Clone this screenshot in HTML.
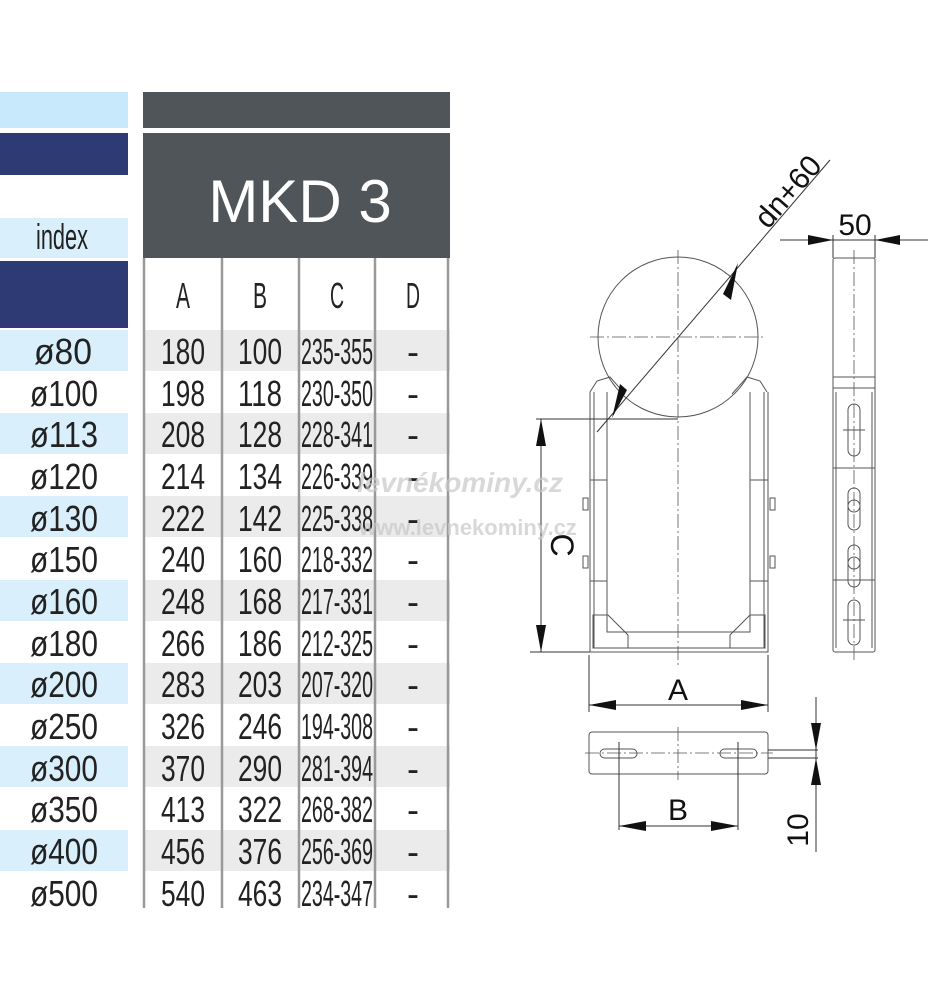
<!DOCTYPE html>
<html><head><meta charset="utf-8"><style>
html,body{margin:0;padding:0;background:#fff;}
svg{display:block;}
.t{font-family:"Liberation Sans",sans-serif;font-size:36px;fill:#222;text-anchor:middle;}
.d{stroke:#555;stroke-width:1;fill:none;}
.c{stroke:#555;stroke-width:0.8;fill:none;stroke-dasharray:14 3 2 3;}
</style></head><body>
<svg width="928" height="999" viewBox="0 0 928 999" xmlns="http://www.w3.org/2000/svg">
<!-- left header -->
<rect x="0" y="92" width="128" height="36" fill="#c8e9fb"/>
<rect x="0" y="133" width="128" height="42" fill="#2e3a74"/>
<rect x="0" y="218" width="128" height="40" fill="#d9effc"/>
<text class="t" x="62" y="249" font-size="30" textLength="52" lengthAdjust="spacingAndGlyphs">index</text>
<rect x="0" y="261" width="128" height="67" fill="#2e3a74"/>
<!-- right header -->
<rect x="143" y="92" width="307" height="36" fill="#4f5558"/>
<rect x="143" y="133" width="307" height="125" fill="#4f5558"/>
<text x="300" y="222" font-family="Liberation Sans,sans-serif" font-size="60" fill="#fff" text-anchor="middle">MKD 3</text>
<!-- stripes -->
<g fill="#d9effc">
<rect x="0" y="330" width="128" height="41"/><rect x="0" y="413" width="128" height="41"/><rect x="0" y="496" width="128" height="41"/><rect x="0" y="580" width="128" height="41"/><rect x="0" y="663" width="128" height="41"/><rect x="0" y="746" width="128" height="41"/><rect x="0" y="830" width="128" height="41"/>
</g>
<g fill="#ebebeb">
<rect x="143" y="330" width="307" height="41"/><rect x="143" y="413" width="307" height="41"/><rect x="143" y="496" width="307" height="41"/><rect x="143" y="580" width="307" height="41"/><rect x="143" y="663" width="307" height="41"/><rect x="143" y="746" width="307" height="41"/><rect x="143" y="830" width="307" height="41"/>
</g>
<g stroke="#999" stroke-width="2.5">
<line x1="144" y1="258" x2="144" y2="908"/><line x1="222" y1="258" x2="222" y2="908"/><line x1="299" y1="258" x2="299" y2="908"/><line x1="375" y1="258" x2="375" y2="908"/><line x1="448" y1="258" x2="448" y2="908"/>
</g>
<g class="t">
<text x="183" y="308" textLength="14" lengthAdjust="spacingAndGlyphs">A</text>
<text x="260" y="308" textLength="14" lengthAdjust="spacingAndGlyphs">B</text>
<text x="337" y="308" textLength="14" lengthAdjust="spacingAndGlyphs">C</text>
<text x="413" y="308" textLength="14" lengthAdjust="spacingAndGlyphs">D</text>
</g>
<g class="t">
<text x="63" y="364" textLength="58" lengthAdjust="spacingAndGlyphs">ø80</text>
<text x="64" y="406" textLength="68" lengthAdjust="spacingAndGlyphs">ø100</text>
<text x="64" y="447" textLength="68" lengthAdjust="spacingAndGlyphs">ø113</text>
<text x="64" y="489" textLength="68" lengthAdjust="spacingAndGlyphs">ø120</text>
<text x="64" y="531" textLength="68" lengthAdjust="spacingAndGlyphs">ø130</text>
<text x="64" y="572" textLength="68" lengthAdjust="spacingAndGlyphs">ø150</text>
<text x="64" y="614" textLength="68" lengthAdjust="spacingAndGlyphs">ø160</text>
<text x="64" y="656" textLength="68" lengthAdjust="spacingAndGlyphs">ø180</text>
<text x="64" y="697" textLength="68" lengthAdjust="spacingAndGlyphs">ø200</text>
<text x="64" y="739" textLength="68" lengthAdjust="spacingAndGlyphs">ø250</text>
<text x="64" y="781" textLength="68" lengthAdjust="spacingAndGlyphs">ø300</text>
<text x="64" y="822" textLength="68" lengthAdjust="spacingAndGlyphs">ø350</text>
<text x="64" y="864" textLength="68" lengthAdjust="spacingAndGlyphs">ø400</text>
<text x="64" y="906" textLength="68" lengthAdjust="spacingAndGlyphs">ø500</text>
</g>
<g class="t">
<text x="183" y="364" textLength="44" lengthAdjust="spacingAndGlyphs">180</text><text x="260" y="364" textLength="44" lengthAdjust="spacingAndGlyphs">100</text><text x="337" y="364" textLength="72" lengthAdjust="spacingAndGlyphs">235-355</text><text x="413" y="364">-</text>
<text x="183" y="406" textLength="44" lengthAdjust="spacingAndGlyphs">198</text><text x="260" y="406" textLength="44" lengthAdjust="spacingAndGlyphs">118</text><text x="337" y="406" textLength="72" lengthAdjust="spacingAndGlyphs">230-350</text><text x="413" y="406">-</text>
<text x="183" y="447" textLength="44" lengthAdjust="spacingAndGlyphs">208</text><text x="260" y="447" textLength="44" lengthAdjust="spacingAndGlyphs">128</text><text x="337" y="447" textLength="72" lengthAdjust="spacingAndGlyphs">228-341</text><text x="413" y="447">-</text>
<text x="183" y="489" textLength="44" lengthAdjust="spacingAndGlyphs">214</text><text x="260" y="489" textLength="44" lengthAdjust="spacingAndGlyphs">134</text><text x="337" y="489" textLength="72" lengthAdjust="spacingAndGlyphs">226-339</text><text x="413" y="489">-</text>
<text x="183" y="531" textLength="44" lengthAdjust="spacingAndGlyphs">222</text><text x="260" y="531" textLength="44" lengthAdjust="spacingAndGlyphs">142</text><text x="337" y="531" textLength="72" lengthAdjust="spacingAndGlyphs">225-338</text><text x="413" y="531">-</text>
<text x="183" y="572" textLength="44" lengthAdjust="spacingAndGlyphs">240</text><text x="260" y="572" textLength="44" lengthAdjust="spacingAndGlyphs">160</text><text x="337" y="572" textLength="72" lengthAdjust="spacingAndGlyphs">218-332</text><text x="413" y="572">-</text>
<text x="183" y="614" textLength="44" lengthAdjust="spacingAndGlyphs">248</text><text x="260" y="614" textLength="44" lengthAdjust="spacingAndGlyphs">168</text><text x="337" y="614" textLength="72" lengthAdjust="spacingAndGlyphs">217-331</text><text x="413" y="614">-</text>
<text x="183" y="656" textLength="44" lengthAdjust="spacingAndGlyphs">266</text><text x="260" y="656" textLength="44" lengthAdjust="spacingAndGlyphs">186</text><text x="337" y="656" textLength="72" lengthAdjust="spacingAndGlyphs">212-325</text><text x="413" y="656">-</text>
<text x="183" y="697" textLength="44" lengthAdjust="spacingAndGlyphs">283</text><text x="260" y="697" textLength="44" lengthAdjust="spacingAndGlyphs">203</text><text x="337" y="697" textLength="72" lengthAdjust="spacingAndGlyphs">207-320</text><text x="413" y="697">-</text>
<text x="183" y="739" textLength="44" lengthAdjust="spacingAndGlyphs">326</text><text x="260" y="739" textLength="44" lengthAdjust="spacingAndGlyphs">246</text><text x="337" y="739" textLength="72" lengthAdjust="spacingAndGlyphs">194-308</text><text x="413" y="739">-</text>
<text x="183" y="781" textLength="44" lengthAdjust="spacingAndGlyphs">370</text><text x="260" y="781" textLength="44" lengthAdjust="spacingAndGlyphs">290</text><text x="337" y="781" textLength="72" lengthAdjust="spacingAndGlyphs">281-394</text><text x="413" y="781">-</text>
<text x="183" y="822" textLength="44" lengthAdjust="spacingAndGlyphs">413</text><text x="260" y="822" textLength="44" lengthAdjust="spacingAndGlyphs">322</text><text x="337" y="822" textLength="72" lengthAdjust="spacingAndGlyphs">268-382</text><text x="413" y="822">-</text>
<text x="183" y="864" textLength="44" lengthAdjust="spacingAndGlyphs">456</text><text x="260" y="864" textLength="44" lengthAdjust="spacingAndGlyphs">376</text><text x="337" y="864" textLength="72" lengthAdjust="spacingAndGlyphs">256-369</text><text x="413" y="864">-</text>
<text x="183" y="906" textLength="44" lengthAdjust="spacingAndGlyphs">540</text><text x="260" y="906" textLength="44" lengthAdjust="spacingAndGlyphs">463</text><text x="337" y="906" textLength="72" lengthAdjust="spacingAndGlyphs">234-347</text><text x="413" y="906">-</text>
</g>

<!-- front view drawing -->
<circle cx="678" cy="337" r="80" class="d"/>
<line x1="590" y1="337" x2="766" y2="337" class="c"/>
<line x1="678" y1="250" x2="678" y2="665" class="c"/>
<path class="d" d="M590,392 L597,381 L610,377 L625,394 M607,392 L607,632 L750,632 L750,392 M767,392 L760,381 L747,377 L732,394 M590,392 L590,652 L768,652 L768,392"/>
<path class="d" d="M594,392 L594,648 L764,648 L764,392"/>
<path class="d" d="M593,615 L608,615 L628,635 L628,648 L593,648 Z M765,615 L750,615 L730,635 L730,648 L765,648 Z"/>
<path class="d" d="M590,480 L607,480 M590,581 L607,581 M750,480 L768,480 M750,581 L768,581"/>
<rect x="583" y="498" width="5" height="12" class="d"/><rect x="583" y="556" width="5" height="12" class="d"/>
<rect x="770" y="498" width="5" height="12" class="d"/><rect x="770" y="556" width="5" height="12" class="d"/>
<!-- dn+60 -->
<line x1="597" y1="432" x2="830" y2="160" stroke="#333" stroke-width="1"/>
<path d="M738,263 L723,294 L731,300 Z" fill="#111"/>
<path d="M612,418 L627,390 L620,384 Z" fill="#111"/>
<text x="0" y="0" font-family="Liberation Sans,sans-serif" font-size="30" fill="#111" transform="translate(768,230) rotate(-49)">dn+60</text>
<!-- C dim -->
<line x1="536" y1="419" x2="678" y2="419" stroke="#333" stroke-width="1"/>
<line x1="530" y1="652" x2="590" y2="652" stroke="#333" stroke-width="1"/>
<line x1="541" y1="419" x2="541" y2="652" stroke="#333" stroke-width="1"/>
<path d="M541,419 L536,446 L546,446 Z M541,652 L536,625 L546,625 Z" fill="#111"/>
<text x="0" y="0" font-family="Liberation Sans,sans-serif" font-size="32" fill="#111" transform="translate(551,545) rotate(90)" text-anchor="middle">C</text>
<!-- A dim -->
<line x1="589" y1="655" x2="589" y2="712" stroke="#333"/><line x1="768" y1="655" x2="768" y2="712" stroke="#333"/>
<line x1="589" y1="705" x2="768" y2="705" stroke="#333"/>
<path d="M589,705 L616,700 L616,710 Z M768,705 L741,700 L741,710 Z" fill="#111"/>
<text x="678" y="700" font-family="Liberation Sans,sans-serif" font-size="30" fill="#111" text-anchor="middle">A</text>
<!-- bottom plate -->
<rect x="589" y="732" width="179" height="42" rx="3" class="d"/>
<line x1="585" y1="753" x2="773" y2="753" class="c"/>
<line x1="678" y1="727" x2="678" y2="780" class="c"/>
<rect x="600" y="749" width="37" height="9" rx="4.5" class="d"/>
<rect x="720" y="749" width="37" height="9" rx="4.5" class="d"/>
<line x1="619" y1="742" x2="619" y2="830" stroke="#333"/><line x1="738" y1="742" x2="738" y2="830" stroke="#333"/>
<line x1="619" y1="826" x2="738" y2="826" stroke="#333"/>
<path d="M619,826 L646,821 L646,831 Z M738,826 L711,821 L711,831 Z" fill="#111"/>
<text x="678" y="820" font-family="Liberation Sans,sans-serif" font-size="30" fill="#111" text-anchor="middle">B</text>
<!-- 10 dim -->
<line x1="768" y1="750" x2="818" y2="750" stroke="#333"/><line x1="768" y1="758" x2="818" y2="758" stroke="#333"/>
<line x1="816" y1="697" x2="816" y2="852" stroke="#333"/>
<path d="M816,750 L811,723 L821,723 Z M816,758 L811,785 L821,785 Z" fill="#111"/>
<text x="0" y="0" font-family="Liberation Sans,sans-serif" font-size="30" fill="#111" transform="translate(808,830) rotate(-90)" text-anchor="middle">10</text>
<!-- side view -->
<rect x="833" y="258" width="42" height="394" rx="2" class="d"/>
<line x1="854" y1="250" x2="854" y2="660" class="c"/>
<path class="d" d="M833,377 L875,377 M833,388 L875,388 M833,468 L875,468 M833,580 L875,580 M836,392 L836,648 M872,392 L872,648"/>
<rect x="848" y="404" width="12" height="52" rx="6" class="d"/>
<rect x="848" y="488" width="12" height="42" rx="6" class="d"/>
<circle cx="854" cy="506" r="6" class="d"/>
<rect x="848" y="545" width="12" height="42" rx="6" class="d"/>
<circle cx="854" cy="563" r="6" class="d"/>
<rect x="848" y="600" width="12" height="45" rx="6" class="d"/>
<line x1="843" y1="430" x2="865" y2="430" stroke="#555"/><line x1="843" y1="620" x2="865" y2="620" stroke="#555"/>
<!-- 50 dim -->
<line x1="780" y1="240" x2="928" y2="240" stroke="#333"/>
<line x1="833" y1="235" x2="833" y2="258" stroke="#333"/><line x1="875" y1="235" x2="875" y2="258" stroke="#333"/>
<path d="M833,240 L808,235 L808,245 Z M875,240 L900,235 L900,245 Z" fill="#111"/>
<text x="855" y="235" font-family="Liberation Sans,sans-serif" font-size="30" fill="#111" text-anchor="middle">50</text>
<!-- watermark -->
<text x="460" y="492" font-family="Liberation Sans,sans-serif" font-weight="bold" font-style="italic" font-size="28" fill="#c8c8c8" fill-opacity="0.7" text-anchor="middle">levnékominy.cz</text>
<text x="468" y="535" font-family="Liberation Sans,sans-serif" font-weight="bold" font-size="22" fill="#c8c8c8" fill-opacity="0.7" text-anchor="middle">www.levnekominy.cz</text>
</svg>
</body></html>
